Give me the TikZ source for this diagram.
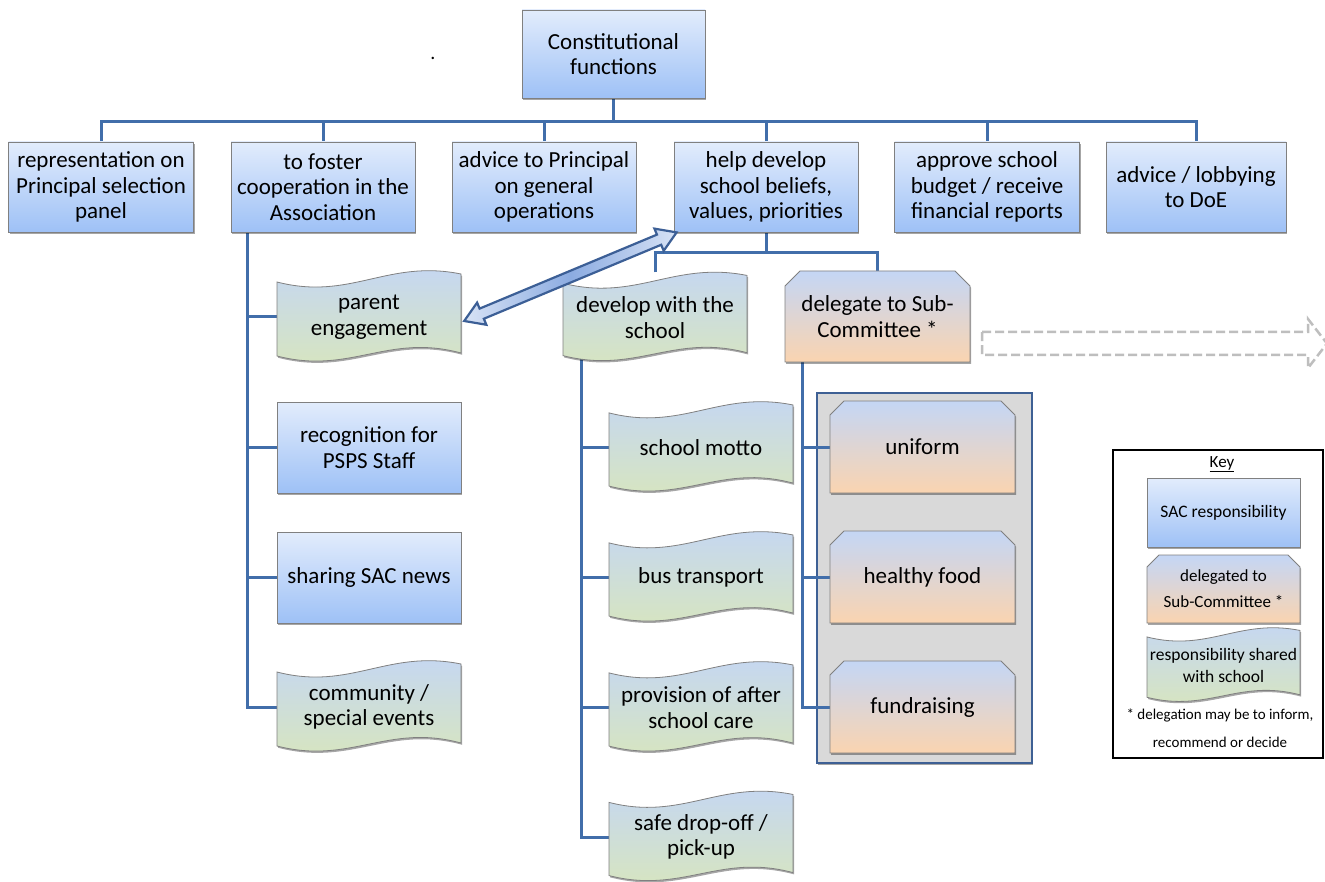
\documentclass[tikz,border=0pt]{standalone}
\usepackage{fontspec}
\setmainfont{Carlito}
\usetikzlibrary{shadows,calc}
\pgfdeclarelayer{bg}
\pgfsetlayers{bg,main}

\definecolor{conn}{RGB}{65,110,170}
\definecolor{sactop}{RGB}{226,236,252}
\definecolor{sacbot}{RGB}{158,193,246}
\definecolor{deltop}{RGB}{196,214,245}
\definecolor{delbot}{RGB}{250,212,176}
\definecolor{wavtop}{RGB}{196,214,245}
\definecolor{wavbot}{RGB}{216,230,188}
\definecolor{edge}{RGB}{128,128,128}
\definecolor{grpfill}{RGB}{217,217,217}
\definecolor{grpedge}{RGB}{62,96,148}
\definecolor{dashgray}{RGB}{190,190,190}
\definecolor{arrlight}{RGB}{215,226,245}
\definecolor{arrmid}{RGB}{140,172,225}
\definecolor{arredge}{RGB}{60,95,150}

\tikzset{
  shad/.style={drop shadow={shadow xshift=1.2pt, shadow yshift=-1.8pt, opacity=0.35, fill=black}},
  mainfont/.style={font=\fontsize{23}{25.5}\selectfont},
  keyfont/.style={font=\fontsize{17.5}{24}\selectfont},
  sacbox/.style={draw=edge, line width=0.8pt, top color=sactop, bottom color=sacbot, shad, align=center, inner sep=0pt},
  chamshade/.style={draw=edge, line width=0.8pt, top color=deltop, bottom color=delbot, shad},
  waveshade/.style={draw=edge, line width=0.8pt, top color=wavtop, bottom color=wavbot, shad},
  link/.style={draw=conn, line width=3pt},
}

\newcommand\wavebox[7]{%
  \begin{scope}[shift={(#2,#3)}, xscale=#4/184, yscale=#5/92]
    \shade[waveshade] (-92,-35) .. controls (-18.4,-16) and (18.4,-58) .. (92,-43) -- (92,36) .. controls (18.4,16) and (-18.4,58) .. (-92,39) -- cycle;
  \end{scope}
  \node[align=center, inner sep=0pt, minimum width=#4pt, minimum height=#5pt, #6] (#1) at (#2,#3) {#7};
}
\newcommand\chambox[8]{%
  \begin{scope}[shift={(#2,#3)}]
    \shade[chamshade] ({-#4/2},{#5/2}) -- ({-#4/2},{-#5/2+#6}) -- ({-#4/2+#6},{-#5/2}) -- ({#4/2-#6},{-#5/2}) -- ({#4/2},{-#5/2+#6}) -- ({#4/2},{#5/2}) -- cycle;
  \end{scope}
  \node[align=center, inner sep=0pt, minimum width=#4pt, minimum height=#5pt, #7] (#1) at (#2,#3) {#8};
}

\begin{document}
\begin{tikzpicture}[x=1pt,y=-1pt]
\useasboundingbox (0,0) rectangle (1325,882);
\begin{pgfonlayer}{bg}
\fill[white] (0,0) rectangle (1325,882);
\end{pgfonlayer}

% top node
\node[sacbox, mainfont, minimum width=183pt, minimum height=88pt] (top) at (613.5,54) {Constitutional\\functions};
\node[font=\fontsize{20}{24}\selectfont] (dot) at (433,58) {.};

% second row
\node[sacbox, mainfont, minimum width=185pt, minimum height=90pt] (b1) at (101,187) {representation on\\Principal selection\\panel};
\node[sacbox, mainfont, minimum width=184pt, minimum height=90pt] (b2) at (323,187) {to foster\\cooperation in the\\Association};
\node[sacbox, mainfont, minimum width=184pt, minimum height=90pt] (b3) at (544,187) {advice to Principal\\on general\\operations};
\node[sacbox, mainfont, minimum width=184pt, minimum height=90pt] (b4) at (766,187) {help develop\\school beliefs,\\values, priorities};
\node[sacbox, mainfont, minimum width=185pt, minimum height=90pt] (b5) at (987,187) {approve school\\budget / receive\\financial reports};
\node[sacbox, mainfont, minimum width=180pt, minimum height=90pt] (b6) at (1196,187) {advice / lobbying\\to DoE};

% left column
\wavebox{pe}{369}{317}{184}{92}{mainfont}{parent\\engagement}
\node[sacbox, mainfont, minimum width=184pt, minimum height=91pt] (rec) at (369,447.5) {recognition for\\PSPS Staff};
\node[sacbox, mainfont, minimum width=184pt, minimum height=91pt] (sha) at (369,577.5) {sharing SAC news};
\wavebox{com}{369}{707}{184}{92}{mainfont}{community /\\special events}

% middle column
\wavebox{dws}{655}{317.5}{184}{90}{mainfont}{develop with the\\school}
\wavebox{motto}{701}{447.5}{184}{91}{mainfont}{school motto}
\wavebox{bust}{701}{577.5}{184}{91}{mainfont}{bus transport}
\wavebox{prov}{701}{707.5}{184}{91}{mainfont}{provision of after\\school care}
\wavebox{safe}{701}{837}{184}{91}{mainfont}{safe drop-off /\\pick-up}

% delegate column
\begin{pgfonlayer}{bg}
\node[draw=grpedge, fill=grpfill, line width=2.5pt, minimum width=215pt, minimum height=370pt, inner sep=0pt, shad] (grp) at (924.5,578) {};
\end{pgfonlayer}
\chambox{del}{877.5}{316.5}{185}{91}{15}{mainfont}{delegate to Sub-\\Committee *}
\chambox{uni}{922.5}{447}{185}{92}{14}{mainfont}{uniform}
\chambox{food}{922.5}{577}{185}{92}{14}{mainfont}{healthy food}
\chambox{fund}{922.5}{707}{185}{92}{14}{mainfont}{fundraising}

% dashed block arrow
\draw[dashgray, line width=2.5pt, dash pattern=on 9pt off 4pt] (982,332) -- (1308,332) -- (1308,319) -- (1327,343.5) -- (1308,368) -- (1308,355) -- (982,355) -- cycle;

% key
\node[draw=black, fill=white, line width=2.5pt, minimum width=210pt, minimum height=308pt, inner sep=0pt] (key) at (1218,604) {};
\node[font=\fontsize{17}{20}\selectfont] (keyt) at (1222,464) {\underline{Key}};
\node[sacbox, keyfont, minimum width=153pt, minimum height=69pt] (ksac) at (1223.5,512.5) {SAC responsibility};
\chambox{kdel}{1223.5}{589}{153}{68}{12}{font=\fontsize{17}{26}\selectfont}{delegated to\\Sub-Committee *}
\wavebox{kwav}{1223.5}{665.5}{153}{75}{font=\fontsize{17.5}{22}\selectfont}{responsibility shared\\with school}
\node[font=\fontsize{15}{28}\selectfont, align=center] (kfoot) at (1220,728) {* delegation may be to inform,\\recommend or decide};

% double arrow between parent engagement and help develop
\coordinate (A) at ([xshift=3pt,yshift=-4pt]pe.east);
\coordinate (B) at ([xshift=3pt]b4.south west);
\coordinate (Aq) at ($(A)!19pt!(B)$);
\coordinate (Bq) at ($(B)!19pt!(A)$);
\shade[draw=arredge, line width=2.2pt, line join=miter, left color=arrlight, right color=arrlight, middle color=arrmid]
  (A) -- ($(Aq)!12pt!90:(B)$) -- ($(Aq)!5.5pt!90:(B)$) -- ($(Bq)!5.5pt!-90:(A)$) -- ($(Bq)!12pt!-90:(A)$) -- (B)
  -- ($(Bq)!12pt!90:(A)$) -- ($(Bq)!5.5pt!90:(A)$) -- ($(Aq)!5.5pt!-90:(B)$) -- ($(Aq)!12pt!-90:(B)$) -- cycle;

% connectors
\begin{pgfonlayer}{bg}
\coordinate (tbus) at (0,122);
\draw[link] (b1.north) -- (b1.north |- tbus) -- (b6.north |- tbus) -- (b6.north);
\draw[link] (top.south) -- (top.south |- tbus);
\foreach \n in {b2,b3,b4,b5} \draw[link] (\n.north |- tbus) -- (\n.north);

\coordinate (lt) at ([xshift=17pt]b2.south west);
\draw[link] (lt) -- (lt |- com.west) -- (com.west);
\foreach \n in {pe,rec,sha} \draw[link] (lt |- \n.west) -- (\n.west);

\coordinate (mbus) at (0,253);
\draw[link] (b4.south) -- (b4.south |- mbus);
\draw[link] (dws.north) -- (dws.north |- mbus) -- (del.north |- mbus) -- (del.north);

\coordinate (mt) at ([xshift=19pt,yshift=4pt]dws.south west);
\draw[link] (mt) -- (mt |- safe.west) -- (safe.west);
\foreach \n in {motto,bust,prov} \draw[link] (mt |- \n.west) -- (\n.west);

\coordinate (dt) at ([xshift=18pt]del.south west);
\draw[link] (dt) -- (dt |- fund.west) -- (fund.west);
\foreach \n in {uni,food} \draw[link] (dt |- \n.west) -- (\n.west);
\end{pgfonlayer}
\end{tikzpicture}
\end{document}
